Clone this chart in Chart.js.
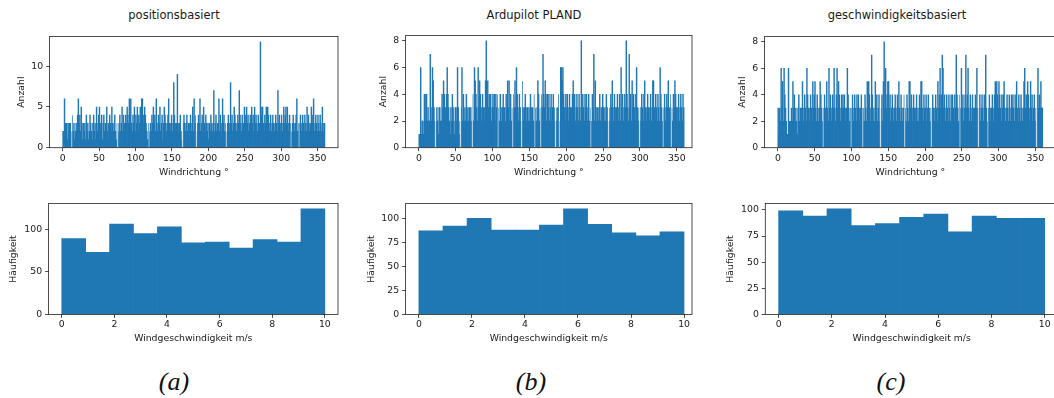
<!DOCTYPE html>
<html>
<head>
<meta charset="utf-8">
<script src="https://cdn.jsdelivr.net/npm/chart.js@4.4.1/dist/chart.umd.min.js"></script>
<style>
  html, body { margin: 0; padding: 0; background: #fff; }
  body { width: 1054px; height: 398px; position: relative; overflow: hidden; font-family: "DejaVu Sans", sans-serif; }
  canvas { position: absolute; }
  .title { position: absolute; top: 8px; font-size: 11.5px; color: #1a1a1a; transform: translateX(-50%); white-space: nowrap; }
  .sub { position: absolute; top: 367px; font-family: "Liberation Serif", serif; font-style: italic; font-size: 26px; color: #111; transform: translateX(-50%); white-space: nowrap; }
</style>
</head>
<body>
<div class="title" style="left:174px">positionsbasiert</div>
<div class="title" style="left:534px">Ardupilot PLAND</div>
<div class="title" style="left:897px">geschwindigkeitsbasiert</div>

<canvas id="aTop"></canvas>
<canvas id="aBottom"></canvas>
<canvas id="bTop"></canvas>
<canvas id="bBottom"></canvas>
<canvas id="cTop"></canvas>
<canvas id="cBottom"></canvas>

<div class="sub" style="left:174px">(a)</div>
<div class="sub" style="left:531px">(b)</div>
<div class="sub" style="left:891px">(c)</div>

<script>
// Windrichtung: Anzahl je 1°-Klasse (0..359)
const dirPositions = [
  2,2,6,3,2,3,1,3,2,3, 3,2,0,4,2,3,1,2,3,2,
  4,6,3,4,2,5,3,1,3,2, 3,1,4,2,3,1,2,4,3,2,
  1,3,4,2,3,1,5,2,3,4, 5,3,2,4,1,3,4,2,3,3,
  5,2,3,1,4,3,2,5,3,2, 3,4,2,1,3,0,2,3,4,2,
  3,5,2,4,3,2,4,3,5,4, 3,6,4,6,3,2,4,3,5,2,
  4,3,5,2,4,3,5,4,6,6, 4,3,5,4,3,2,1,3,0,2,
  3,2,4,3,5,3,4,2,6,3, 2,4,3,5,2,3,4,1,3,5,
  4,3,2,3,4,6,3,2,3,4, 2,3,8,4,3,2,3,9,3,2,
  3,4,2,1,0,3,4,3,2,3, 4,2,3,1,3,4,2,3,5,2,
  6,3,4,0,2,3,4,3,6,2, 3,4,2,5,3,2,4,3,2,3,
  1,3,2,4,3,2,3,7,2,3, 4,2,3,3,6,2,4,3,2,6,
  3,4,2,3,0,2,3,4,2,3, 8,3,4,2,3,5,4,3,2,3,
  4,3,7,4,3,2,4,3,3,5, 4,3,5,3,4,2,3,4,3,5,
  3,4,2,5,3,4,3,2,4,3, 3,13,4,5,5,3,2,4,3,5,
  3,5,4,2,3,4,2,3,4,3, 2,3,4,3,2,7,3,4,2,3,
  4,2,3,5,3,4,5,3,5,2, 3,4,3,0,2,3,4,3,2,3,
  4,6,2,3,0,3,4,2,3,4, 3,2,4,3,2,5,3,4,2,3,
  3,5,4,3,6,2,3,4,3,2, 4,3,2,4,3,2,5,3,2,3
];
const dirPland = [
  1,1,6,1,2,2,1,4,2,4, 4,2,3,2,2,7,3,2,6,5,
  3,2,0,2,3,2,1,3,3,2, 2,4,3,5,4,2,3,4,6,4,
  3,2,1,3,2,4,3,2,1,3, 3,2,6,3,1,2,0,3,6,2,
  4,2,3,2,4,2,3,2,3,2, 3,2,0,4,2,6,5,4,3,2,
  6,3,5,4,3,2,4,3,2,3, 5,8,4,5,3,4,3,4,2,3,
  4,3,4,2,4,3,4,0,3,2, 4,3,2,3,4,2,3,2,4,3,
  5,3,5,2,4,2,3,0,4,3, 5,3,6,4,3,2,4,3,2,0,
  5,3,2,3,4,3,2,3,2,3, 2,4,3,2,3,2,4,0,3,2,
  3,5,4,2,3,0,4,3,7,4, 3,5,4,2,4,3,4,2,3,4,
  2,3,4,3,2,0,3,2,3,4, 0,2,6,6,5,6,4,3,2,4,
  3,4,3,2,4,3,2,3,4,5, 3,4,2,3,4,3,2,4,3,2,
  8,3,4,3,2,4,3,4,2,3, 4,2,3,0,2,4,3,7,2,5,
  3,2,3,2,3,4,2,3,2,4, 3,2,3,2,4,3,2,0,3,2,
  4,3,5,3,2,4,3,2,3,4, 2,3,4,2,6,3,4,2,3,4,
  3,8,4,3,2,7,3,4,2,5, 3,4,3,2,4,6,3,2,3,0,
  2,3,4,3,2,4,5,3,2,3, 4,3,2,3,4,2,3,5,5,3,
  2,4,3,2,4,3,2,6,4,3, 2,0,3,4,2,3,4,3,5,2,
  3,4,0,3,2,4,3,5,4,3, 2,3,4,2,3,4,3,2,4,3
];
const dirVelocity = [
  3,1,3,2,6,3,5,2,6,4, 3,2,1,1,6,2,1,2,3,2,
  5,3,4,2,3,2,1,3,4,2, 3,2,3,5,2,3,4,3,2,6,
  4,3,2,3,4,3,2,5,3,4, 5,3,2,4,3,2,3,5,4,3,
  2,0,3,4,3,2,5,3,2,6, 3,4,2,3,4,3,6,3,2,4,
  6,3,5,4,3,2,4,3,4,3, 4,3,2,3,6,4,3,2,3,0,
  3,4,2,3,4,3,2,4,3,4, 3,2,3,4,3,0,3,2,4,3,
  2,5,3,5,4,2,3,7,4,2, 3,2,5,3,4,2,3,4,2,0,
  3,4,2,5,8,3,6,3,4,5, 5,3,4,2,3,4,3,2,3,4,
  3,2,4,3,5,3,2,4,3,2, 3,4,0,3,2,4,3,2,5,5,
  3,4,2,3,4,3,2,3,4,2, 3,2,4,3,5,5,3,2,4,3,
  3,4,2,3,4,2,3,2,0,3, 4,3,2,3,4,3,2,5,3,4,
  6,3,4,7,6,3,4,2,3,4, 3,2,4,3,2,4,3,4,3,2,
  4,3,7,4,3,2,4,0,3,6, 3,4,2,3,4,7,3,4,6,3,
  2,4,3,2,4,3,2,3,4,3, 6,3,0,3,4,2,3,4,3,2,
  4,3,7,3,2,0,3,4,3,2, 3,4,3,2,4,5,3,5,4,3,
  5,4,3,2,4,3,4,5,3,2, 3,4,3,2,4,3,2,4,3,4,
  3,2,4,3,5,3,2,4,3,2, 4,3,2,3,5,6,3,4,3,5,
  4,3,2,5,3,4,2,3,4,2, 3,0,4,6,3,4,3,5,3,3
];

// Windgeschwindigkeit: Häufigkeit in 11 Klassen zwischen 0 und 10 m/s
const speedPositions = [89, 73, 106, 95, 103, 84, 85, 78, 88, 85, 124];
const speedPland     = [87, 92, 100, 88, 88, 93, 110, 94, 85, 82, 86];
const speedVelocity  = [99, 94, 101, 85, 87, 93, 96, 79, 94, 92, 92];

// Achsenbeschriftung
const dirTicks = [0, 50, 100, 150, 200, 250, 300, 350];
const speedTicks = [0, 2, 4, 6, 8, 10];
const countTicksA = [0, 5, 10];
const countTicksBC = [0, 2, 4, 6, 8];
const freqTicksA = [0, 50, 100];
const freqTicksBC = [0, 25, 50, 75, 100];

const BLUE = '#1f77b4';
const INK = '#1a1a1a';
const tickFont = { family: 'DejaVu Sans', size: 9.3 };

// Rahmen um die Zeichenfläche (alle vier Achsenlinien)
const frame = {
  id: 'frame',
  afterDatasetsDraw(chart) {
    const { ctx, chartArea: a } = chart;
    ctx.save();
    ctx.strokeStyle = '#222';
    ctx.lineWidth = 0.8;
    ctx.strokeRect(a.left, a.top, a.right - a.left, a.bottom - a.top);
    ctx.restore();
  }
};

// schmale Balken leicht verbreitern, damit keine hellen Fugen entstehen;
// neben leeren Klassen nicht, damit die Lücke sichtbar bleibt
function narrowInflate(counts) {
  return c => {
    const i = c.dataIndex;
    return (counts[i - 1] === 0 || counts[i + 1] === 0) ? 0 : 0.35;
  };
}

function histogram(id, box, counts, binStart, binWidth, x, y) {
  const yW = box.yTitleGap + 5.6;
  const xH = box.xTitleGap + 5.6;
  const padTop = 8, padRight = 22;
  const canvas = document.getElementById(id);
  canvas.width = yW + (box.r - box.l) + padRight;
  canvas.height = padTop + (box.b - box.t) + xH;
  canvas.style.left = (box.l - yW) + 'px';
  canvas.style.top = (box.t - padTop) + 'px';

  const points = counts.map((c, i) => ({ x: binStart + (i + 0.5) * binWidth, y: c }));

  new Chart(canvas.getContext('2d'), {
    type: 'bar',
    data: {
      datasets: [{
        data: points,
        backgroundColor: BLUE,
        borderWidth: 0,
        barPercentage: 1,
        categoryPercentage: 1,
        inflateAmount: box.narrow ? narrowInflate(counts) : 'auto'
      }]
    },
    options: {
      responsive: false,
      animation: false,
      events: [],
      layout: { padding: { left: 0, top: padTop, right: padRight, bottom: 0 } },
      plugins: { legend: { display: false }, tooltip: { enabled: false } },
      scales: {
        x: {
          type: 'linear',
          offset: false,
          min: x.min,
          max: x.max,
          afterBuildTicks: axis => { axis.ticks = x.ticks.map(v => ({ value: v })); },
          afterFit: axis => { axis.height = xH; },
          grid: { display: true, offset: false, drawOnChartArea: false, drawTicks: true, tickLength: 3.5, tickColor: '#222', tickWidth: 0.8 },
          border: { display: false },
          ticks: { font: tickFont, color: INK, padding: 1.5, maxRotation: 0, autoSkip: false },
          title: { display: true, text: x.title, font: tickFont, color: INK, padding: 0 }
        },
        y: {
          min: 0,
          max: y.max,
          afterBuildTicks: axis => { axis.ticks = y.ticks.map(v => ({ value: v })); },
          afterFit: axis => { axis.width = yW; },
          grid: { display: true, drawOnChartArea: false, drawTicks: true, tickLength: 3.5, tickColor: '#222', tickWidth: 0.8 },
          border: { display: false },
          ticks: { font: tickFont, color: INK, padding: 3 },
          title: { display: true, text: y.title, font: tickFont, color: INK, padding: 0 }
        }
      }
    },
    plugins: [frame]
  });
}

const dirTitle = 'Windrichtung °';
const speedTitle = 'Windgeschwindigkeit m/s';
const speedBin = 10 / speedPositions.length;

histogram('aTop', { l: 50, t: 36, r: 339, b: 148, yTitleGap: 28, xTitleGap: 24.7, narrow: true },
  dirPositions, 0, 1,
  { min: -18, max: 378, ticks: dirTicks, title: dirTitle },
  { max: 13.65, ticks: countTicksA, title: 'Anzahl' });

histogram('aBottom', { l: 49, t: 203, r: 339, b: 315, yTitleGap: 35, xTitleGap: 24 },
  speedPositions, 0, speedBin,
  { min: -0.5, max: 10.5, ticks: speedTicks, title: speedTitle },
  { max: 130.2, ticks: freqTicksA, title: 'Häufigkeit' });

histogram('bTop', { l: 406, t: 35, r: 693, b: 148, yTitleGap: 22, xTitleGap: 24.7, narrow: true },
  dirPland, 0, 1,
  { min: -18, max: 370.7, ticks: dirTicks, title: dirTitle },
  { max: 8.4, ticks: countTicksBC, title: 'Anzahl' });

histogram('bBottom', { l: 406, t: 203, r: 693, b: 315, yTitleGap: 34, xTitleGap: 24 },
  speedPland, 0, speedBin,
  { min: -0.5, max: 10.3, ticks: speedTicks, title: speedTitle },
  { max: 115.5, ticks: freqTicksBC, title: 'Häufigkeit' });

histogram('cTop', { l: 765, t: 36, r: 1057, b: 148, yTitleGap: 22, xTitleGap: 24.7, narrow: true },
  dirVelocity, 0, 1,
  { min: -18, max: 378, ticks: dirTicks, title: dirTitle },
  { max: 8.4, ticks: countTicksBC, title: 'Anzahl' });

histogram('cBottom', { l: 765, t: 203, r: 1058, b: 315, yTitleGap: 34.7, xTitleGap: 24 },
  speedVelocity, 0, speedBin,
  { min: -0.5, max: 10.5, ticks: speedTicks, title: speedTitle },
  { max: 106.05, ticks: freqTicksBC, title: 'Häufigkeit' });
</script>
</body>
</html>
